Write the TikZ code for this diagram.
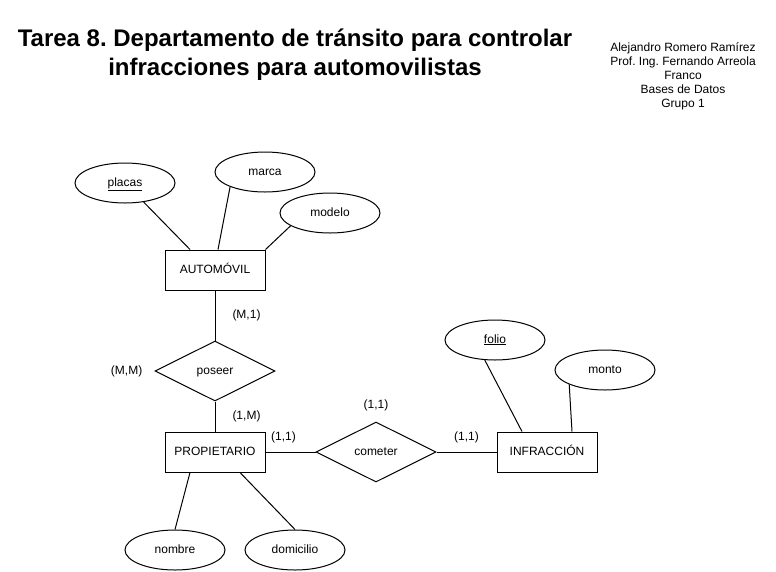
\documentclass[tikz,border=0pt]{standalone}
\usepackage{fontspec}
\setmainfont{Liberation Sans}
\usetikzlibrary{positioning,shapes.geometric}
\frenchspacing

\begin{document}
\begin{tikzpicture}[
    x=1pt, y=-1pt,
    node distance=50pt and 50pt,
    every node/.style={font=\fontsize{12}{14}\selectfont, align=center},
    entidad/.style={draw, line width=1pt, minimum width=100pt, minimum height=40pt, inner sep=0pt, text height=8.5pt, text depth=2.5pt},
    atributo/.style={draw, line width=1pt, ellipse, minimum width=100pt, minimum height=40pt, inner sep=0pt, text height=8.5pt, text depth=2.5pt},
    relacion/.style={draw, line width=1pt, diamond, aspect=2, minimum width=120pt, minimum height=60pt, inner sep=0pt, text height=8.5pt, text depth=2.5pt},
    card/.style={inner sep=1pt},
    linea/.style={line width=1pt}
]
\useasboundingbox (0,0) rectangle (776,571);

% Titulo
\node[font=\bfseries\fontsize{24}{29}\selectfont] (titulo) at (295,55)
  {Tarea 8. Departamento de tránsito para controlar\\infracciones para automovilistas};
\node (datos) at (683,76)
  {Alejandro Romero Ramírez\\Prof. Ing. Fernando Arreola\\Franco\\Bases de Datos\\Grupo 1};

% Entidades y relaciones
\node[entidad] (automovil) at (215,270) {AUTOMÓVIL};
\node[relacion, below=50pt of automovil] (poseer) {poseer};
\node[entidad, below=30pt of poseer] (propietario) {PROPIETARIO};
\node[relacion, right=50pt of propietario] (cometer) {cometer};
\node[entidad, right=60pt of cometer] (infraccion) {INFRACCIÓN};

% Atributos
\node[atributo] (placas) at (125,183) {\underline{placas}};
\node[atributo] (marca) at (265,172) {marca};
\node[atributo] (modelo) at (330,213) {modelo};
\node[atributo] (folio) at (495,340) {\underline{folio}};
\node[atributo] (monto) at (605,370) {monto};
\node[atributo] (nombre) at (175,550) {nombre};
\node[atributo] (domicilio) at (295,550) {domicilio};

% Cardinalidades
\node[card, left=11pt of poseer] (cardMM) {(M,M)};
\node[card, above=9pt of cometer] (cardCom) {(1,1)};

% Lineas
\draw[linea] (automovil) -- node[card, right=16pt] {(M,1)} (poseer);
\draw[linea] (poseer) -- node[card, right=16pt] {(1,M)} (propietario);
\draw[linea] (propietario) -- node[card, pos=0.36, above=8pt] {(1,1)} (cometer);
\draw[linea] (cometer) -- node[card, above=8pt] {(1,1)} (infraccion);

\draw[linea] (placas) -- ([xshift=-25pt]automovil.north);
\draw[linea] (marca.203) -- ([xshift=3pt]automovil.north);
\draw[linea] (modelo.198) -- (automovil.north east);
\draw[linea] (folio.243) -- ([xshift=-25pt]infraccion.north);
\draw[linea] (monto.202) -- ([xshift=25pt]infraccion.north);
\draw[linea] ([xshift=-25pt]propietario.south) -- (nombre.north);
\draw[linea] ([xshift=25pt]propietario.south) -- (domicilio.north);

\end{tikzpicture}
\end{document}
